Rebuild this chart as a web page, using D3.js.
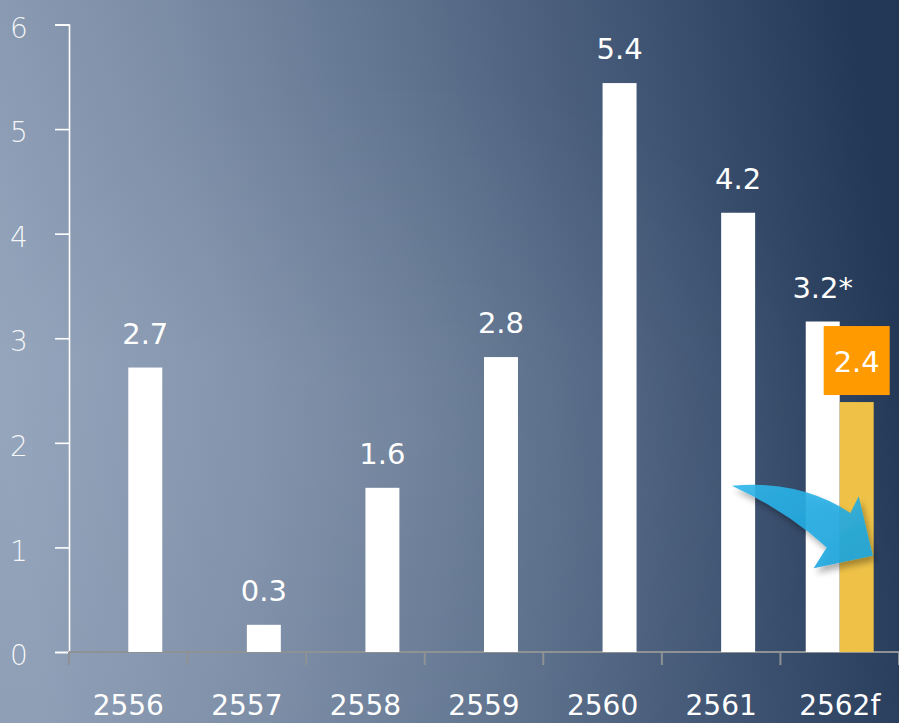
<!DOCTYPE html>
<html><head><meta charset="utf-8">
<script src="https://cdn.jsdelivr.net/npm/d3@7"></script>
<style>html,body{margin:0;padding:0;background:#5a6e8a;}svg{display:block;}</style>
</head><body>
<svg id="chart" width="899" height="723"></svg>
<script>
// ---- data ----
const categories = ["2556","2557","2558","2559","2560","2561","2562f"];
const mainValues = [2.72, 0.26, 1.57, 2.82, 5.44, 4.2, 2.39];      // right slot (last one = revised forecast, yellow)
const revisedValues = [null, null, null, null, null, null, 3.16];   // left slot (previous forecast)
const revisedSuffix = "*";
const yTicks = [0,1,2,3,4,5,6];

(function(){
const W = 899, H = 723;
const svg = d3.select("#chart");
const defs = svg.append("defs");

// background
const bg = defs.append("linearGradient").attr("id","bg").attr("x1","0").attr("y1","0.56").attr("x2","1").attr("y2","0.44");
[["0%","#95a6bd"],["25%","#8192ab"],["50%","#637792"],["75%","#435877"],["100%","#233857"]].forEach(s=>bg.append("stop").attr("offset",s[0]).attr("stop-color",s[1]));
svg.append("rect").attr("width",W).attr("height",H).attr("fill","url(#bg)");
const glow = defs.append("radialGradient").attr("id","glow").attr("cx","0.45").attr("cy","0.6").attr("r","0.5");
glow.append("stop").attr("offset","0%").attr("stop-color","#ffffff").attr("stop-opacity",0.07);
glow.append("stop").attr("offset","100%").attr("stop-color","#ffffff").attr("stop-opacity",0);
svg.append("rect").attr("width",W).attr("height",H).attr("fill","url(#glow)");
const topG = defs.append("linearGradient").attr("id","topdark").attr("x1","0").attr("y1","0").attr("x2","0").attr("y2","1");
topG.append("stop").attr("offset","0%").attr("stop-color","#1a2c48").attr("stop-opacity",0.06);
topG.append("stop").attr("offset","50%").attr("stop-color","#1a2c48").attr("stop-opacity",0);
topG.append("stop").attr("offset","100%").attr("stop-color","#1a2c48").attr("stop-opacity",0.06);
svg.append("rect").attr("width",W).attr("height",H).attr("fill","url(#topdark)");

// scales
const x = d3.scaleBand().domain(categories).range([69, 899]).padding(0);
const bw = x.bandwidth();
const x1 = d3.scaleBand().domain(["revised","main"]).range([bw*0.2135, bw*0.7865]).padding(0);
const y = d3.scaleLinear().domain([0,6]).range([652, 24.5]);
const fmt = d3.format(".1f");
const FONT = "'DejaVu Sans', Verdana, sans-serif";

// y axis
const yAxis = svg.append("g").attr("transform","translate(69,0)")
  .call(d3.axisLeft(y).tickValues(yTicks).tickSize(14).tickSizeOuter(14).tickFormat(d3.format("d")));
yAxis.select(".domain").attr("stroke","#ffffff").attr("stroke-width",1.6);
yAxis.selectAll(".tick line").attr("stroke","#ffffff").attr("stroke-width",1.6);
yAxis.selectAll(".tick text").attr("fill","#ffffff").attr("fill-opacity",0.92)
  .attr("font-family",FONT).attr("font-weight",200).attr("font-size",28)
  .attr("text-anchor","middle").attr("x",-50).attr("dy","0.45em");

// x axis (gray baseline with ticks at band boundaries)
const xg = svg.append("g");
xg.append("line").attr("x1",x.range()[0]).attr("x2",x.range()[1]).attr("y1",y(0)).attr("y2",y(0))
  .attr("stroke","#8f9294").attr("stroke-width",2);
const bounds = categories.map(c=>x(c)).concat([x.range()[1]]);
xg.selectAll(".xt").data(bounds).join("line").attr("class","xt")
  .attr("x1",d=>d).attr("x2",d=>d).attr("y1",y(0)).attr("y2",y(0)+13)
  .attr("stroke","#8f9294").attr("stroke-width",2);
xg.selectAll(".xl").data(categories).join("text").attr("class","xl")
  .attr("x",d=>x(d)+bw/2).attr("y",715).attr("text-anchor","middle")
  .attr("fill","#ffffff").attr("font-family",FONT).attr("font-size",28).text(d=>d);

// bars
const last = categories[categories.length-1];
const mainData = categories.map((c,i)=>({c, v: mainValues[i]}));
const revData = categories.map((c,i)=>({c, v: revisedValues[i]})).filter(d=>d.v!=null);

svg.selectAll(".rev").data(revData).join("rect").attr("class","rev")
  .attr("x",d=>x(d.c)+x1("revised")).attr("width",x1.bandwidth())
  .attr("y",d=>y(d.v)).attr("height",d=>y(0)-y(d.v)).attr("fill","#ffffff");
svg.selectAll(".main").data(mainData).join("rect").attr("class","main")
  .attr("x",d=>x(d.c)+x1("main")).attr("width",x1.bandwidth())
  .attr("y",d=>y(d.v)).attr("height",d=>y(0)-y(d.v))
  .attr("fill",d=>d.c===last ? "#efc247" : "#ffffff");

// value labels
svg.selectAll(".vl").data(mainData.filter(d=>d.c!==last)).join("text").attr("class","vl")
  .attr("x",d=>x(d.c)+x1("main")+x1.bandwidth()/2).attr("y",d=>y(d.v)-24)
  .attr("text-anchor","middle").attr("fill","#ffffff").attr("font-family",FONT).attr("font-size",29)
  .text(d=>fmt(d.v));
svg.selectAll(".rl").data(revData).join("text").attr("class","rl")
  .attr("x",d=>x(d.c)+x1("revised")+x1.bandwidth()/2).attr("y",d=>y(d.v)-24)
  .attr("text-anchor","middle").attr("fill","#ffffff").attr("font-family",FONT).attr("font-size",29)
  .text(d=>fmt(d.v)+revisedSuffix);

// orange callout for forecast value
const lastD = mainData[mainData.length-1];
const cx = x(last)+x1("main")+x1.bandwidth()/2;
const boxW = 66, boxH = 69, boxB = y(lastD.v)-7;
svg.append("rect").attr("x",cx-boxW/2).attr("y",boxB-boxH).attr("width",boxW).attr("height",boxH).attr("fill","#ff9a00");
svg.append("text").attr("x",cx).attr("y",boxB-boxH/2+11).attr("text-anchor","middle")
  .attr("fill","#ffffff").attr("font-family",FONT).attr("font-size",29).text(fmt(lastD.v));

// curved blue arrow annotation (anchored to last band)
const filt = defs.append("filter").attr("id","sh").attr("x","-20%").attr("y","-20%").attr("width","150%").attr("height","150%");
filt.append("feDropShadow").attr("dx",3).attr("dy",5).attr("stdDeviation",3).attr("flood-color","#000").attr("flood-opacity",0.35);
const bx = x(last), P = (fx,vy)=>[bx+fx*bw, y(vy)];
const pts = {
  tail:P(-0.41,1.59), c1:P(0.16,1.65), n1:P(0.59,1.33), b1:P(0.66,1.49),
  tip:P(0.78,0.92), b2:P(0.28,0.8), n2:P(0.39,1.0), c2:P(0.05,1.35)
};
const arrow = `M${pts.tail} Q${pts.c1} ${pts.n1} L${pts.b1} L${pts.tip} L${pts.b2} L${pts.n2} Q${pts.c2} ${pts.tail} Z`;
const ag = defs.append("linearGradient").attr("id","ag").attr("x1","0").attr("y1","0").attr("x2","1").attr("y2","1");
ag.append("stop").attr("offset","0%").attr("stop-color","#2fb6ea");
ag.append("stop").attr("offset","100%").attr("stop-color","#1aa3dc");
svg.append("path").attr("d",arrow).attr("fill","url(#ag)").attr("fill-opacity",0.9).attr("filter","url(#sh)");
})();
</script>
</body></html>
